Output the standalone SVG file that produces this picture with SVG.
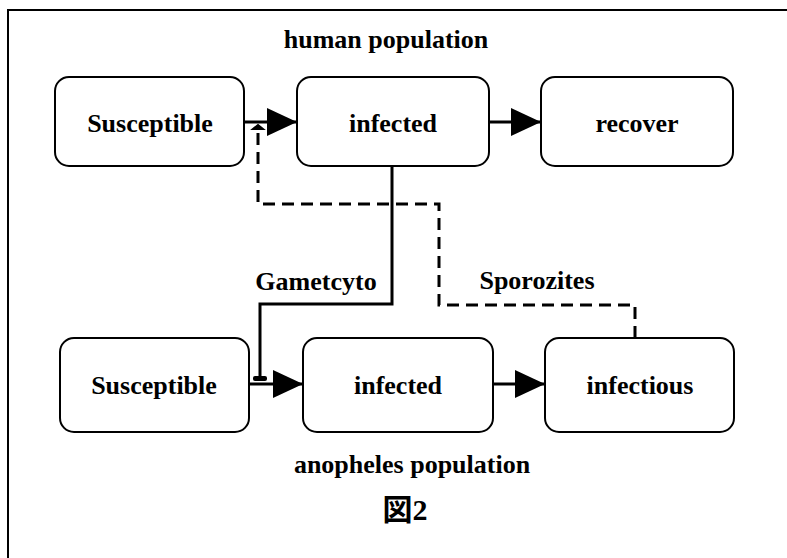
<svg xmlns="http://www.w3.org/2000/svg" width="787" height="558" viewBox="0 0 787 558">
<defs>
<style>
.box{fill:#fff;stroke:#000;stroke-width:2}
.t{font-family:"Liberation Serif","Times New Roman","Noto Sans CJK JP",serif;font-weight:bold;font-size:26px;fill:#000;text-anchor:middle}
.c{fill:none;stroke:#000;stroke-width:3}
.d{fill:none;stroke:#000;stroke-width:3;stroke-dasharray:12,7}
</style>
<marker id="ah" markerUnits="userSpaceOnUse" markerWidth="32" markerHeight="28" refX="30" refY="14" orient="auto">
<path d="M0,0 L30,14 L0,28 Z" fill="#000"/>
</marker>
</defs>
<rect width="787" height="558" fill="#fff"/>
<path d="M8,558 L8,10 L787,10" fill="none" stroke="#000" stroke-width="2"/>
<text class="t" x="386" y="48">human population</text>
<g id="h_susceptible"><rect class="box" x="55" y="77" width="189" height="89" rx="14"/><text class="t" x="150" y="132">Susceptible</text></g>
<g id="h_infected"><rect class="box" x="297" y="77" width="192" height="89" rx="14"/><text class="t" x="393" y="132">infected</text></g>
<g id="h_recover"><rect class="box" x="541" y="77" width="192" height="89" rx="14"/><text class="t" x="637" y="132">recover</text></g>
<g id="m_susceptible"><rect class="box" x="60" y="338" width="189" height="94" rx="14"/><text class="t" x="154" y="394">Susceptible</text></g>
<g id="m_infected"><rect class="box" x="303" y="338" width="190" height="94" rx="14"/><text class="t" x="398" y="394">infected</text></g>
<g id="m_infectious"><rect class="box" x="545" y="338" width="189" height="94" rx="14"/><text class="t" x="640" y="394">infectious</text></g>
<g id="connectors">
<line class="c" x1="244" y1="122" x2="297" y2="122" marker-end="url(#ah)"/>
<line class="c" x1="489" y1="122" x2="541" y2="122" marker-end="url(#ah)"/>
<line class="c" x1="249" y1="384" x2="303" y2="384" marker-end="url(#ah)"/>
<line class="c" x1="493" y1="384" x2="545" y2="384" marker-end="url(#ah)"/>
<path class="c" d="M392,166 L392,304 L260,304 L260,378"/>
<rect x="253" y="376" width="14" height="5" rx="2" fill="#000"/>
<path class="d" d="M635,338 L635,305 L439,305 L439,204 L258,204 L258,130"/>
<path d="M253,129 L263,129 L258,125 Z" fill="#000" stroke="#000" stroke-width="2"/>
<text class="t" x="316" y="290">Gametcyto</text>
<text class="t" x="537" y="289">Sporozites</text>
</g>
<text class="t" x="412" y="473">anopheles population</text>
<text class="t" x="405" y="520" style="font-size:30px">図2</text>
</svg>
